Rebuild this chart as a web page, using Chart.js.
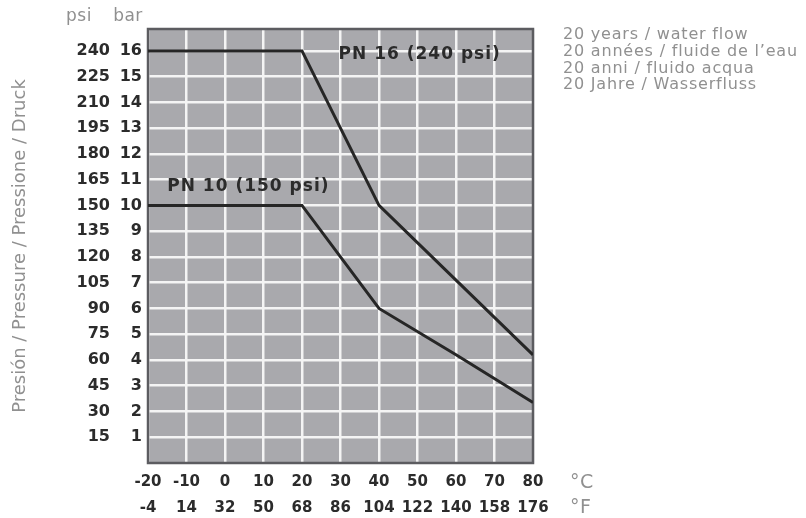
<!DOCTYPE html>
<html>
<head>
<meta charset="utf-8">
<script src="https://cdn.jsdelivr.net/npm/chart.js@4.4.1/dist/chart.umd.min.js"></script>
<style>
  html, body { margin: 0; padding: 0; background: #fff; }
  #wrap { width: 806px; height: 518px; position: relative; }
</style>
</head>
<body>
<div id="wrap"><canvas id="chart" width="806" height="518"></canvas></div>
<script>
// ── Data ──────────────────────────────────────────────────────
const tempC   = [-20, 20, 40, 60, 80];        // °C
const pn16Bar = [16, 16, 10, 7.1, 4.2];       // bar
const pn10Bar = [10, 10, 6, 4.2, 2.35];       // bar

const xTicksC   = [-20, -10, 0, 10, 20, 30, 40, 50, 60, 70, 80];
const xTicksF   = [-4, 14, 32, 50, 68, 86, 104, 122, 140, 158, 176];
const yTicksBar = [1, 2, 3, 4, 5, 6, 7, 8, 9, 10, 11, 12, 13, 14, 15, 16];
const yTicksPsi = [15, 30, 45, 60, 75, 90, 105, 120, 135, 150, 165, 180, 195, 210, 225, 240];

const seriesLabels = ['PN 16 (240 psi)', 'PN 10 (150 psi)'];
const noteLines = [
  '20 years / water flow',
  '20 années / fluide de l\u2019eau',
  '20 anni / fluido acqua',
  '20 Jahre / Wasserfluss',
];
const yTitle = 'Presión / Pressure / Pressione / Druck';

// ── Style ─────────────────────────────────────────────────────
const FONT     = "'DejaVu Sans', sans-serif";
const GREY_TXT = '#909090';
const DARK_TXT = '#2b2b2b';
const PLOT_BG  = '#a9a9ad';

const toPts = (ys) => tempC.map((x, i) => ({ x, y: ys[i] }));

// background + frame of the plot area
const framePlugin = {
  id: 'frame',
  beforeDraw(chart) {
    const { ctx, chartArea: a } = chart;
    ctx.save();
    ctx.fillStyle = PLOT_BG;
    ctx.fillRect(a.left, a.top, a.right - a.left, a.bottom - a.top);
    ctx.restore();
  },
  beforeDatasetsDraw(chart) {
    const { ctx, chartArea: a } = chart;
    ctx.save();
    ctx.strokeStyle = '#5c5c60';
    ctx.lineWidth = 2.5;
    ctx.strokeRect(a.left, a.top, a.right - a.left, a.bottom - a.top);
    ctx.restore();
  },
};

// texts: series labels, headers, units, note
const textPlugin = {
  id: 'texts',
  afterDraw(chart) {
    const { ctx, scales } = chart;
    const x = scales.x, y = scales.y;
    ctx.save();
    ctx.textBaseline = 'middle';

    ctx.fillStyle = DARK_TXT;
    ctx.font = `bold 17px ${FONT}`;
    ctx.letterSpacing = '1px';
    ctx.textAlign = 'left';
    ctx.fillText(seriesLabels[0], x.getPixelForValue(29.5), y.getPixelForValue(15.85));
    ctx.fillText(seriesLabels[1], x.getPixelForValue(-15), y.getPixelForValue(10.75));

    ctx.fillStyle = GREY_TXT;
    ctx.letterSpacing = '0.5px';
    ctx.font = `17px ${FONT}`;
    ctx.textAlign = 'center';
    ctx.fillText('psi', 79, 17);
    ctx.fillText('bar', 128, 17);

    ctx.font = `19px ${FONT}`;
    ctx.textAlign = 'left';
    ctx.fillText('°C', 570, 483);
    ctx.fillText('°F', 570, 508);

    ctx.font = `16px ${FONT}`;
    ctx.letterSpacing = '0.8px';
    noteLines.forEach((t, i) => ctx.fillText(t, 563, 35 + i * 16.7));
    ctx.restore();
  },
};

new Chart(document.getElementById('chart'), {
  type: 'line',
  data: {
    datasets: [
      {
        label: seriesLabels[0],
        data: toPts(pn16Bar),
        borderColor: '#262626',
        borderWidth: 3,
        pointRadius: 0,
        tension: 0,
        fill: false,
      },
      {
        label: seriesLabels[1],
        data: toPts(pn10Bar),
        borderColor: '#262626',
        borderWidth: 3,
        pointRadius: 0,
        tension: 0,
        fill: false,
      },
    ],
  },
  options: {
    responsive: false,
    animation: false,
    layout: { padding: { left: 8, top: 29, right: 273, bottom: 0 } },
    plugins: {
      legend:  { display: false },
      tooltip: { enabled: false },
    },
    scales: {
      x: {
        type: 'linear',
        min: -20,
        max: 80,
        afterBuildTicks: (s) => { s.ticks = xTicksC.map((v) => ({ value: v })); },
        afterFit: (s) => { s.height = 55; },
        grid:   { color: '#f4f4f4', lineWidth: 2.5, drawTicks: false },
        border: { display: false },
        ticks: {
          padding: 6,
          color: DARK_TXT,
          font: { family: FONT, size: 15, weight: 'bold', lineHeight: '26px' },
          maxRotation: 0,
          autoSkip: false,
          callback: (v) => {
            const i = xTicksC.indexOf(v);
            return [String(v), String(xTicksF[i])];
          },
        },
      },
      y: {
        type: 'linear',
        position: 'left',
        weight: 0,
        min: 0,
        max: 16.85,
        afterBuildTicks: (s) => { s.ticks = yTicksBar.map((v) => ({ value: v })); },
        afterFit: (s) => { s.width = 36; },
        grid:   { color: '#f4f4f4', lineWidth: 2.5, drawTicks: false },
        border: { display: false },
        ticks: {
          padding: 6,
          color: DARK_TXT,
          font: { family: FONT, size: 16, weight: 'bold' },
          autoSkip: false,
        },
      },
      yPsi: {
        type: 'linear',
        position: 'left',
        weight: 1,
        min: 0,
        max: 16.85,
        afterBuildTicks: (s) => { s.ticks = yTicksBar.map((v) => ({ value: v })); },
        afterFit: (s) => { s.width = 104; },
        grid:   { display: false, drawTicks: false },
        border: { display: false },
        title: {
          display: true,
          text: yTitle,
          color: GREY_TXT,
          font: { family: FONT, size: 18 },
          padding: { top: 2, bottom: 0 },
        },
        ticks: {
          padding: 2,
          color: DARK_TXT,
          font: { family: FONT, size: 16, weight: 'bold' },
          autoSkip: false,
          callback: (v) => String(yTicksPsi[yTicksBar.indexOf(v)]),
        },
      },
    },
  },
  plugins: [framePlugin, textPlugin],
});
</script>
</body>
</html>
